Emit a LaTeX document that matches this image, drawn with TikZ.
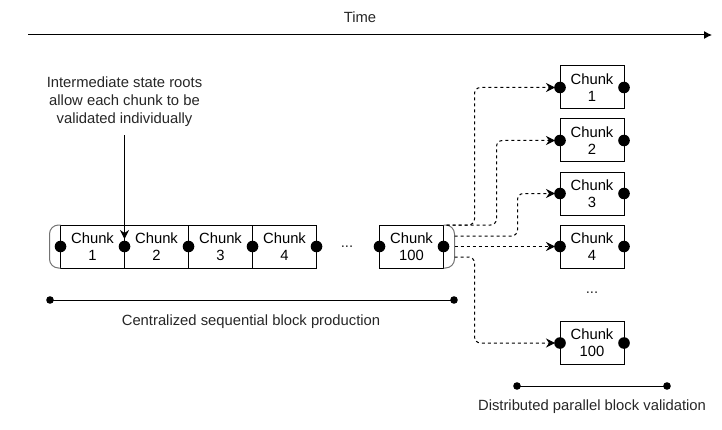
\documentclass[tikz,border=0pt]{standalone}
\usepackage{fontspec}
\setmainfont{Liberation Sans}
\usetikzlibrary{arrows.meta,positioning}
\tikzset{
	chunkbox/.style={draw, line width=1pt, minimum width=64pt, minimum height=43pt, inner sep=0pt, outer sep=0pt, align=center, font=\fontsize{14.8}{17}\selectfont},
	bracket/.style={draw=black!55, line width=1pt, rounded corners=9pt},
	flow/.style={line width=1pt, dash pattern=on 3pt off 3pt, rounded corners=6pt, -{Stealth[length=9pt,width=9pt,inset=3pt]}, shorten >=5pt},
	pointer/.style={line width=1pt, -{Stealth[length=9pt,width=9pt,inset=3pt]}},
	label/.style={align=center, text=black!85, font=\fontsize{14.8}{18}\selectfont},
	span/.style={line width=1pt}
}

\begin{document}
\begin{tikzpicture}[x=1pt,y=1pt]
		%%%%% START %%%%%
		\useasboundingbox (0,0) rectangle (722,429);
		
		% time axis
		\coordinate (t0) at (28,394);
		\coordinate (t1) at (712,394);
		\draw[line width=1pt, -{Latex[length=8pt,width=8pt]}] (t0) -- (t1);
		\node[label] (time) at (360,412) {Time};
		
		% sequential chain
		\node[chunkbox] (c1) at (92.5,182.5) {Chunk\\1};
		\node[chunkbox, right=0pt of c1] (c2) {Chunk\\2};
		\node[chunkbox, right=0pt of c2] (c3) {Chunk\\3};
		\node[chunkbox, right=0pt of c3] (c4) {Chunk\\4};
		\node[label] (gap) at (347,182.5) {...};
		\node[chunkbox] (c100) at (411.5,182.5) {Chunk\\100};
		
		\draw[bracket] (c1.north west) -| ([xshift=-11pt]c1.west) |- (c1.south west);
		\draw[bracket] (c100.north east) -| ([xshift=11pt]c100.east) |- (c100.south east);
		
		% parallel chunks
		\node[chunkbox] (r1) at (592,341.5) {Chunk\\1};
		\node[chunkbox] (r2) at (592,288.5) {Chunk\\2};
		\node[chunkbox] (r3) at (592,235.5) {Chunk\\3};
		\node[chunkbox] (r4) at (592,182.5) {Chunk\\4};
		\node[label] (more) at (592,136) {...};
		\node[chunkbox] (r100) at (592,86) {Chunk\\100};
		
		\draw[flow] ([xshift=3pt]c100.north east) -- ++(28,0) |- (r1.west);
		\draw[flow] ([xshift=3pt]c100.north east) -- ++(50,0) |- (r2.west);
		\draw[flow] ([xshift=11pt,yshift=-11pt]c100.north east) -- ++(63,0) |- (r3.west);
		\draw[flow] ([xshift=11pt]c100.east) -- (r4.west);
		\draw[flow] ([xshift=11pt,yshift=-10.5pt]c100.east) -- ++(20,0) |- (r100.west);
		
		\foreach \p in {c1.west,c1.east,c2.east,c3.east,c4.east,c100.west,c100.east,
			r1.west,r1.east,r2.west,r2.east,r3.west,r3.east,r4.west,r4.east,r100.west,r100.east}
			\fill (\p) circle (5.8pt);
		
		% annotation
		\node[label] (note) at (124.5,327) {Intermediate state roots\\allow each chunk to be\\validated individually};
		\draw[pointer, shorten <=5pt, shorten >=7.5pt] (note.south) -- (c1.east);
		
		% spans
		\coordinate (p0) at (50,129);
		\coordinate (p1) at (454,129);
		\draw[span] (p0) -- (p1);
		\fill (p0) circle (3.8pt) (p1) circle (3.8pt);
		\node[label] (prod) at (251,107) {Centralized sequential block production};
		
		\coordinate (v0) at (517,43);
		\coordinate (v1) at (667,43);
		\draw[span] (v0) -- (v1);
		\fill (v0) circle (3.8pt) (v1) circle (3.8pt);
		\node[label] (valid) at (592,22) {Distributed parallel block validation};
		
		%%%%% END %%%%%
	\end{tikzpicture}
\end{document}
